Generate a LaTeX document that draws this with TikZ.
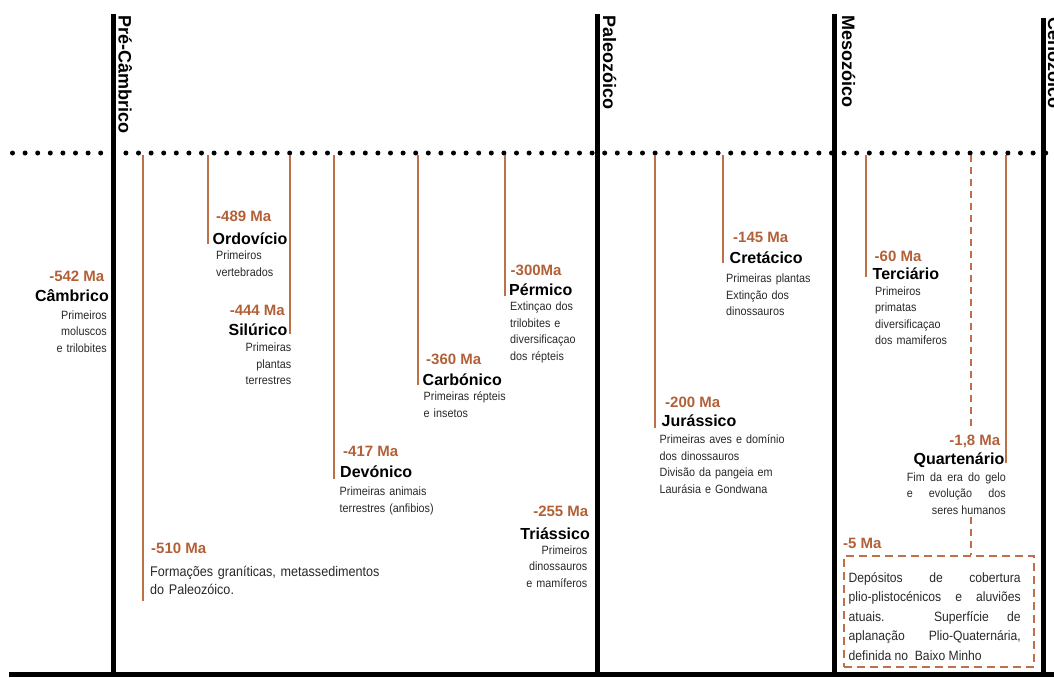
\documentclass[tikz,border=0pt]{standalone}
\usepackage{fontspec}
\setmainfont{Liberation Sans}
\newfontfamily\notefont[FakeStretch=0.9]{Liberation Sans}
\usetikzlibrary{positioning,calc}
\definecolor{geoBrown}{RGB}{178,96,56}
\definecolor{geoLine}{RGB}{190,112,72}
\definecolor{noteGray}{RGB}{40,40,40}

\begin{document}
\begin{tikzpicture}[
    x=1pt, y=-1pt,
    bar/.style={line width=5pt, black},
    tick/.style={draw=geoLine, line width=2pt},
    dline/.style={draw=geoLine, line width=2pt, dash pattern=on 7pt off 5pt},
    era/.style={font=\bfseries\fontsize{18}{20}\selectfont, rotate=-90, anchor=base west, inner sep=0pt},
    date/.style={font=\bfseries\fontsize{15}{18}\selectfont, text=geoBrown, inner sep=0pt},
    period/.style={font=\bfseries\fontsize{16}{19}\selectfont, inner sep=0pt},
    note/.style={font=\notefont\fontsize{12}{16.6}\selectfont, text=noteGray, inner sep=0pt},
    dbox/.style={draw=geoLine, line width=2pt, dash pattern=on 8pt off 5pt, inner sep=0pt}
]
  \useasboundingbox (0,0) rectangle (1054,677);

  % dotted time line
  \foreach \i in {0,...,82}
    \fill (12.5+12.6*\i,153) circle [radius=2.5pt];

  % era bars
  \draw[bar] (113.5,14) -- (113.5,677);
  \draw[bar] (597.5,14) -- (597.5,677);
  \draw[bar] (834,14) -- (834,677);
  \draw[bar] (1043,18) -- (1043,677);
  \draw[bar] (9,674.5) -- (1054,674.5);

  \node[era] (pre) at (118.5,15) {Pré-Câmbrico};
  \node[era] (paleo) at (603,15) {Paleozóico};
  \node[era] (meso) at (842,15) {Mesozóico};
  \node[era] (ceno) at (1048,17) {Cenozóico};

  % period ticks
  \foreach \name/\x/\y in {f510/143/601, ord/208/244, sil/290/334, dev/334/479,
      car/418/385, per/504.5/296, jur/655/428, cre/723/263, ter/866/277, qua/1006/463}{
    \coordinate (\name-top) at (\x,155);
    \coordinate (\name-end) at (\x,\y);
    \draw[tick] (\name-top) -- (\name-end);
  }

  % Cambrico
  \node[date, anchor=base east] (d542) at (104.5,281.5) {-542 Ma};
  \node[period, anchor=base east] (cam) at (109,301.5) {Câmbrico};
  \node[note, text width=80pt, align=right, anchor=base east] (n542) at (107,319)
    {Primeiros\\moluscos\\e trilobites};

  % Ordovicio
  \node[date, anchor=base west] (d489) at (216,221) {-489 Ma};
  \node[period, anchor=base west] (ord) at (212.5,244) {Ordovício};
  \node[note, text width=80pt, align=left, anchor=base west] (n489) at (216,259.5)
    {Primeiros\\vertebrados};

  % Silurico
  \node[date, anchor=base east] (d444) at (285,315) {-444 Ma};
  \node[period, anchor=base east] (sil) at (287.5,335) {Silúrico};
  \node[note, text width=80pt, align=right, anchor=base east] (n444) at (291.5,351.5)
    {Primeiras\\plantas\\terrestres};

  % Devonico
  \node[date, anchor=base west] (d417) at (343,456.5) {-417 Ma};
  \node[period, anchor=base west] (dev) at (340,477.5) {Devónico};
  \node[note, text width=120pt, align=left, anchor=base west] (n417) at (339.5,495.5)
    {Primeiras animais\\terrestres (anfibios)};

  % granitos
  \node[date, anchor=base west] (d510) at (151,553.5) {-510 Ma};
  \node[note, font=\notefont\fontsize{14}{18}\selectfont, text width=260pt, align=left,
    anchor=base west] (n510) at (150,576)
    {Formações graníticas, metassedimentos\\do Paleozóico.};

  % Carbonico
  \node[date, anchor=base west] (d360) at (426,364.5) {-360 Ma};
  \node[period, anchor=base west] (car) at (422.5,385) {Carbónico};
  \node[note, text width=100pt, align=left, anchor=base west] (n360) at (423.5,400.5)
    {Primeiras répteis\\e insetos};

  % Permico
  \node[date, anchor=base west] (d300) at (510.5,275) {-300Ma};
  \node[period, anchor=base west] (per) at (509,295.5) {Pérmico};
  \node[note, text width=80pt, align=left, anchor=base west] (n300) at (510,310.5)
    {Extinçao dos\\trilobites e\\diversificaçao\\dos répteis};

  % Triassico
  \node[date, anchor=base east] (d255) at (588.5,516.5) {-255 Ma};
  \node[period, anchor=base east] (tri) at (590,539.5) {Triássico};
  \node[note, text width=80pt, align=right, anchor=base east] (n255) at (587.5,554)
    {Primeiros\\dinossauros\\e mamíferos};

  % Jurassico
  \node[date, anchor=base west] (d200) at (665,407.5) {-200 Ma};
  \node[period, anchor=base west] (jur) at (661.5,426.5) {Jurássico};
  \node[note, text width=150pt, align=left, anchor=base west] (n200) at (659.5,443.5)
    {Primeiras aves e domínio\\dos dinossauros\\Divisão da pangeia em\\Laurásia e Gondwana};

  % Cretacico
  \node[date, anchor=base west] (d145) at (733,242.5) {-145 Ma};
  \node[period, anchor=base west] (cre) at (729.5,263) {Cretácico};
  \node[note, text width=100pt, align=left, anchor=base west] (n145) at (726,282.5)
    {Primeiras plantas\\Extinção dos\\dinossauros};

  % Terciario
  \node[date, anchor=base west] (d60) at (874.5,261) {-60 Ma};
  \node[period, anchor=base west] (ter) at (872.5,279) {Terciário};
  \node[note, text width=90pt, align=left, anchor=base west] (n60) at (875,295)
    {Primeiros\\primatas\\diversificaçao\\dos mamiferos};

  % Quaternario
  \coordinate (q-top) at (971,155);
  \coordinate (q-mid) at (971,427);
  \coordinate (q-low) at (971,517);
  \draw[dline] (q-top) -- (q-mid);
  \node[date, anchor=base east] (d18) at (1000.5,445.5) {-1,8 Ma};
  \node[period, anchor=base east] (qua) at (1004.5,464.5) {Quartenário};
  \node[note, text width=99pt, align=justify, anchor=base east] (n18) at (1006,481)
    {\hyphenpenalty=10000 Fim da era do gelo\linebreak e evolução dos\linebreak
     \hspace*{\fill}seres humanos};

  % -5 Ma
  \node[date, anchor=base west] (d5) at (843,548.5) {-5 Ma};
  \node[dbox, minimum width=190pt, minimum height=111pt] (dep) at (938.5,611) {};
  \draw[dline] (q-low) -- (q-low |- dep.north);
  \node[note, font=\notefont\fontsize{13.5}{19.4}\selectfont, text width=172pt, align=justify,
    anchor=base west] (n5) at (848.5,582.5)
    {\hyphenpenalty=10000 Depósitos de cobertura\linebreak plio-plistocénicos e aluviões\linebreak
     atuais. Superfície de\linebreak aplanação Plio-Quaternária,\linebreak definida no\ \ Baixo Minho};
\end{tikzpicture}
\end{document}
